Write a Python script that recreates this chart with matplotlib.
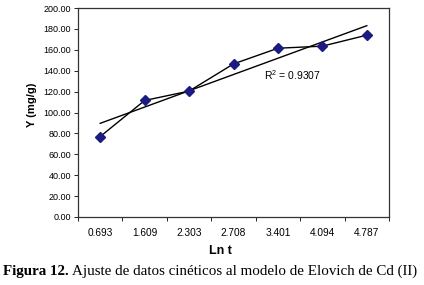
import matplotlib
matplotlib.use("Agg")
import matplotlib.pyplot as plt
import numpy as np

categories = ["0.693", "1.609", "2.303", "2.708", "3.401", "4.094", "4.787"]
y_values = [77.0, 111.5, 120.5, 146.5, 161.5, 163.5, 174.0]
y_ticks = [0, 20, 40, 60, 80, 100, 120, 140, 160, 180, 200]
r2_text = "R$^2$ = 0.9307"

plt.rcParams['font.family'] = ['Liberation Sans', 'DejaVu Sans']
plt.rcParams['mathtext.fontset'] = 'custom'
plt.rcParams['mathtext.rm'] = 'Liberation Sans'

fig = plt.figure(figsize=(4.24, 2.85), dpi=100)
ax = fig.add_axes([78/424, 1-217/285, (389-78)/424, (217-8)/285])

x = np.arange(1, len(categories) + 1)
ax.plot(x, y_values, color='black', lw=1.0, zorder=2)
ax.plot(x, y_values, linestyle='none', marker='D', markersize=5.5,
        markerfacecolor='#1c1c80', markeredgecolor='#1c1c80', zorder=3)
coef = np.polyfit(x, y_values, 1)
ax.plot(x[[0, -1]], np.polyval(coef, x[[0, -1]]), color='black', lw=1.0, zorder=2)

ax.set_xlim(0.5, len(categories) + 0.5)
ax.set_ylim(0, 200)
ax.set_yticks(y_ticks)
ax.set_yticklabels([f"{v:.2f}" for v in y_ticks], fontsize=6.5)
ax.set_xticks(x)
ax.set_xticklabels(categories, fontsize=7.3)
ax.set_xticks(np.arange(0.5, len(categories) + 1.0, 1.0), minor=True)
ax.tick_params(axis='x', which='major', length=0, pad=8)
ax.tick_params(axis='x', which='minor', length=3, width=0.6, direction='out')
ax.tick_params(axis='y', length=3, width=0.6, direction='out', pad=2)
for s in ax.spines.values():
    s.set_linewidth(0.9)
    s.set_color('#333333')

ax.text(5.33, 136, r2_text, fontsize=7.5, ha='center', va='center')

ax.set_ylabel("Y (mg/g)", fontsize=8, fontweight='bold')
ax.yaxis.set_label_coords(-0.132, 0.536)
ax.set_xlabel("Ln t", fontsize=9, fontweight='bold')
ax.xaxis.set_label_coords(0.457, -0.136)

t1 = fig.text(3/424, 1-271/285, "Figura 12.", fontsize=10.8, fontweight='bold',
              family='Liberation Serif', va='center', ha='left')
fig.canvas.draw()
bb = t1.get_window_extent()
fig.text((bb.x1 + 3)/424, 1-271/285,
         "Ajuste de datos cinéticos al modelo de Elovich de Cd (II)",
         fontsize=10.8, family='Liberation Serif', va='center', ha='left')

fig.savefig("out.png", dpi=100)
